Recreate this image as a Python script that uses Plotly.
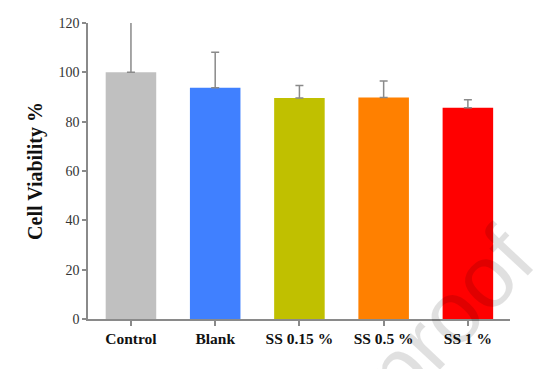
import plotly.graph_objects as go

categories = ["Control", "Blank", "SS 0.15 %", "SS 0.5 %", "SS 1 %"]
viability = [100, 93.8, 89.6, 89.8, 85.6]
errors_up = [20.3, 14.3, 5.1, 6.7, 3.3]
bar_colors = ["#c0c0c0", "#4080ff", "#c0c000", "#ff8000", "#ff0000"]
y_ticks = [0, 20, 40, 60, 80, 100, 120]

fig = go.Figure()
fig.add_trace(go.Bar(
    x=categories, y=viability,
    marker=dict(color=bar_colors, line=dict(width=0)),
    width=0.6,
    error_y=dict(type="data", symmetric=False, array=errors_up, arrayminus=[0]*5,
                 color="#8a8a8a", thickness=1.5, width=4),
))

serif = "Liberation Serif, Times New Roman, serif"
fig.update_layout(
    width=554, height=369,
    margin=dict(l=88, r=44, t=23, b=50),
    plot_bgcolor="white", paper_bgcolor="white",
    showlegend=False,
    font=dict(family=serif),
    xaxis=dict(
        range=[-0.51, 4.5], showline=True, linecolor="#8a8a8a", linewidth=1.5,
        ticks="outside", ticklen=5, tickcolor="#8a8a8a", tickwidth=1.5,
        tickfont=dict(family=serif, size=15.5, color="#111", weight="bold"),
        showgrid=False, zeroline=False,
    ),
    yaxis=dict(
        range=[0, 120], tickvals=y_ticks, showline=True, linecolor="#8a8a8a", linewidth=1.5,
        ticks="outside", ticklen=4, tickcolor="#8a8a8a", tickwidth=1.5,
        tickfont=dict(family=serif, size=14, color="#333"),
        showgrid=False, zeroline=False,
        title=dict(text="Cell Viability %", font=dict(family=serif, size=20, color="#111", weight="bold"), standoff=10),
    ),
)

fig.add_annotation(
    text="proof", xref="paper", yref="paper", x=0.855, y=0.012,
    xanchor="center", yanchor="middle",
    showarrow=False, textangle=-47,
    font=dict(family="Liberation Sans, Arial, sans-serif", size=88, color="rgba(0,0,0,0.12)"),
)

fig.write_html("out.html", config={"displayModeBar": False},
               post_script="document.body.style.margin='0';")
